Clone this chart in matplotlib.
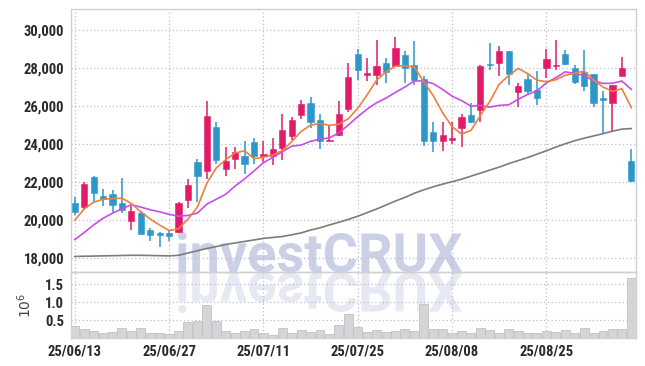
import numpy as np
import pandas as pd
from matplotlib import pyplot as plt
from matplotlib.font_manager import FontProperties
from matplotlib.textpath import TextPath
from matplotlib.patches import PathPatch, Rectangle
from matplotlib.transforms import Affine2D

# daily candles, 2025-06-13 .. 2025-09-05 (KRX trading days)
dates = pd.bdate_range("2025-06-13", "2025-09-05")
dates = dates[dates != pd.Timestamp("2025-08-15")]

opens = [20900, 20700, 22300, 21250, 21400, 20900, 19950, 20400, 19500, 19300,
         19300, 19400, 21050, 23050, 22600, 24900, 22700, 23250, 23400, 24100,
         23400, 23400, 23800, 24450, 25550, 26150, 25300, 24150, 24500, 25850,
         28750, 27650, 27650, 28300, 28100, 28700, 28200, 27450, 24650, 24150,
         24250, 24850, 25550, 25800, 28250, 28300, 28900, 26750, 27450, 26850,
         28000, 28100, 28750, 28000, 27800, 27700, 26450, 26200, 27600, 23100]
highs = [21200, 22000, 22350, 21650, 21600, 22200, 20750, 20500, 19600, 19400,
         19450, 20950, 22150, 23200, 26300, 25150, 23850, 23850, 24150, 24350,
         24150, 24350, 25600, 25450, 26350, 26500, 25600, 25000, 26300, 28300,
         29000, 28550, 29500, 28550, 29650, 28900, 29450, 27600, 25150, 25200,
         25200, 25600, 26150, 28200, 29350, 29200, 28900, 27250, 27700, 27850,
         29000, 29500, 28950, 28200, 28950, 27700, 26800, 27100, 28600, 23750]
lows = [20250, 20550, 20950, 20750, 20450, 20400, 19500, 19250, 18900, 18600,
        18900, 19300, 20650, 20950, 22150, 22950, 22350, 22700, 22450, 22950,
        23050, 22900, 23150, 24200, 25350, 24850, 23750, 24150, 24450, 25700,
        27400, 27350, 27150, 27250, 28050, 27250, 27150, 23900, 23600, 23650,
        24000, 23850, 25100, 25150, 27900, 27600, 27150, 25950, 26600, 26050,
        27500, 27900, 28200, 27200, 26800, 25950, 24550, 24700, 27600, 22000]
closes = [20450, 21900, 21450, 21100, 20800, 20550, 20500, 19250, 19200, 19200,
          19150, 20900, 21850, 22350, 25500, 23150, 23100, 23600, 22950, 23400,
          23500, 23750, 24750, 25300, 26100, 25150, 24200, 24250, 25600, 27550,
          27900, 27750, 28100, 27800, 29050, 28000, 27400, 24200, 24200, 24500,
          24350, 25450, 25150, 28150, 28200, 28900, 27700, 27050, 26800, 26450,
          28500, 28200, 28250, 27300, 27050, 26150, 26350, 27100, 28000, 22050]
volumes = [350000, 260000, 210000, 150000, 180000, 280000, 210000, 280000, 150000, 150000,
           100000, 210000, 450000, 490000, 930000, 490000, 210000, 150000, 210000, 240000,
           140000, 80000, 280000, 150000, 230000, 170000, 230000, 125000, 375000, 680000,
           320000, 180000, 230000, 180000, 210000, 260000, 210000, 950000, 260000, 240000,
           130000, 200000, 140000, 280000, 230000, 140000, 260000, 200000, 140000, 140000,
           200000, 170000, 230000, 140000, 280000, 140000, 200000, 260000, 260000, 1670000]

# moving averages: leading values come from history before the window
ma5_head = [20000, 20600, 20950, 21100]
ma10_head = [18980, 19350, 19750, 20100, 20370, 20600, 20820, 20690, 20550]
ma_long = [18090, 18100, 18110, 18120, 18130, 18140, 18150, 18150, 18140, 18130,
           18120, 18150, 18270, 18390, 18510, 18610, 18720, 18800, 18880, 18960,
           19040, 19090, 19140, 19230, 19330, 19480, 19600, 19750, 19890, 20040,
           20210, 20400, 20590, 20800, 21010, 21200, 21420, 21600, 21760, 21900,
           22030, 22160, 22320, 22480, 22640, 22800, 22980, 23140, 23300, 23480,
           23660, 23850, 24030, 24190, 24320, 24440, 24560, 24690, 24800, 24830]

UP = "#e11b68"
DOWN = "#2e96c8"
GRID = "#b9bdd6"
SPINE = "#d0d0d0"
TXT = "#2a2a2a"
tick_font = dict(family=["Roboto Condensed", "Archivo Narrow", "DejaVu Sans"],
                 weight="bold", size=10.5)

close_s = pd.Series(closes, dtype=float)
ma5 = close_s.rolling(5).mean().to_numpy()
ma5[:4] = ma5_head
ma10 = close_s.rolling(10).mean().to_numpy()
ma10[:9] = ma10_head

x = np.arange(len(dates))

fig = plt.figure(figsize=(6.45, 3.66), dpi=100)
fig.patch.set_facecolor("white")
ax = fig.add_axes([71 / 645, 1 - 272 / 366, 565 / 645, 263 / 366])
vax = fig.add_axes([71 / 645, 1 - 338 / 366, 565 / 645, 66 / 366], sharex=ax)

# watermark "investCRUX" + mirrored reflection, behind the axes
tp = TextPath((0, 0), "investCRUX", size=1, prop=FontProperties(family="Roboto", weight="bold"))
bb = tp.get_extents()
s = 284 / bb.width
x0 = 178 - bb.x0 * s
base = 366 - 272
to_fig = Affine2D().scale(1 / 100) + fig.dpi_scale_trans
fig.patches.append(PathPatch(tp, transform=Affine2D().scale(s, s).translate(x0, base) + to_fig,
                             fc="#cbd0e7", ec="none", zorder=-2))
fig.patches.append(PathPatch(tp, transform=Affine2D().scale(s, -s).translate(x0, base - 1) + to_fig,
                             fc="#e6e8f3", ec="none", zorder=-2))

for a in (ax, vax):
    a.set_facecolor("none")
    for sp in a.spines.values():
        sp.set_color(SPINE)
        sp.set_linewidth(1.0)
    a.grid(True, color=GRID, linestyle=(0, (1, 2)), linewidth=0.9)
    a.set_axisbelow(True)
    a.tick_params(length=0, colors=TXT, pad=5)

# candles
for i in x:
    o, h, l, c = opens[i], highs[i], lows[i], closes[i]
    col = UP if c >= o else DOWN
    ax.vlines(i, l, h, color=col, linewidth=1.1, zorder=3)
    lo, hi = min(o, c), max(o, c)
    ax.add_patch(Rectangle((i - 0.33, lo), 0.66, max(hi - lo, 40), fc=col, ec=col,
                           linewidth=0.4, zorder=4))

ax.plot(x, ma_long, color="#7c7c7c", linewidth=1.2, zorder=5)
ax.plot(x, ma10, color="#c84ee8", linewidth=1.2, zorder=5)
ax.plot(x, ma5, color="#ef7f3e", linewidth=1.2, zorder=5)

ax.set_ylim(17270, 31130)
ax.set_xlim(-0.4, 59.5)
ax.set_yticks(np.arange(18000, 30001, 2000))
ax.set_yticklabels([f"{v:,}" for v in range(18000, 30001, 2000)], fontdict=tick_font)
ax.tick_params(labelbottom=False)

vax.bar(x, np.array(volumes) / 1e6, width=0.95, color="#d5d5d7", edgecolor="#c2c2c4",
        linewidth=0.6, zorder=3)
vax.set_ylim(0, 1.85)
vax.set_yticks([0.5, 1.0, 1.5])
vax.set_yticklabels(["0.5", "1.0", "1.5"], fontdict=tick_font)
vax.set_ylabel(r"$10^6$", fontsize=10, color="#444444", labelpad=8)

xt = np.arange(0, len(dates), 10)
vax.set_xticks(xt)
vax.set_xticklabels([dates[i].strftime("%y/%m/%d") for i in xt], fontdict=tick_font)

fig.savefig("out.png", dpi=100, facecolor="white")
